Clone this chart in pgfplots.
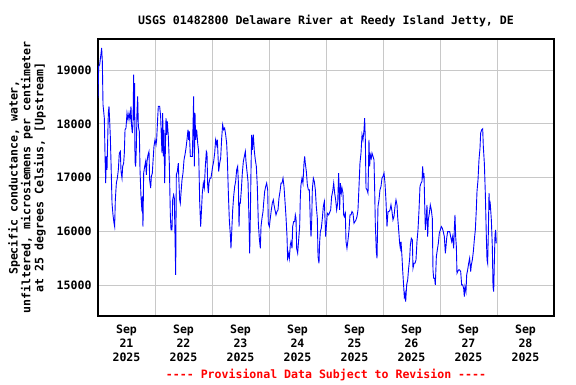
\documentclass[border=0pt]{standalone}
\usepackage{pgfplots}
\pgfplotsset{compat=1.18}
\usepackage{pgfplotstable}
\usepackage{fontspec}
\newfontfamily\usgs{DejaVu Sans Mono}
\definecolor{gridgray}{RGB}{200,200,200}
\definecolor{usgsblue}{RGB}{0,0,255}
\definecolor{usgsred}{RGB}{255,0,0}

\pgfplotstableread{
d v
0.000 18479
0.012 19068
0.029 19099
0.047 19254
0.064 19409
0.076 19161
0.088 18355
0.111 18107
0.123 17425
0.135 16898
0.146 17394
0.158 17146
0.170 17704
0.181 18200
0.193 18324
0.205 18045
0.216 17766
0.228 17301
0.246 16526
0.263 16308
0.281 16153
0.292 16091
0.304 16587
0.322 16898
0.339 16990
0.357 17146
0.374 17456
0.392 17487
0.404 17115
0.421 16990
0.433 17208
0.450 17270
0.462 17456
0.474 17890
0.491 17921
0.509 18200
0.526 18076
0.544 18200
0.561 18076
0.579 18324
0.591 17952
0.602 17828
0.614 17983
0.626 18913
0.637 18076
0.643 18758
0.649 17301
0.661 17208
0.673 17580
0.684 18231
0.696 18510
0.708 17952
0.725 17859
0.737 17146
0.754 16650
0.772 16371
0.778 16650
0.789 16091
0.801 17084
0.819 17208
0.836 17301
0.848 17053
0.860 17301
0.877 17425
0.895 17487
0.906 16960
0.924 16805
0.936 17022
0.953 17084
0.965 17301
0.982 17580
1.000 17704
1.018 17611
1.029 17704
1.047 18107
1.058 18324
1.082 18324
1.099 18138
1.111 17766
1.123 17456
1.135 18200
1.146 17394
1.158 17890
1.170 16898
1.181 17456
1.193 18107
1.205 17797
1.216 18045
1.234 17766
1.251 17270
1.269 16308
1.281 16029
1.298 16029
1.310 16587
1.327 16681
1.339 16619
1.351 15905
1.363 15192
1.374 17053
1.392 17115
1.409 17270
1.421 16898
1.433 16587
1.444 16526
1.456 16712
1.474 16960
1.491 17084
1.509 17332
1.526 17425
1.544 17549
1.561 17704
1.579 17890
1.591 17704
1.602 17859
1.620 17394
1.637 17394
1.655 17394
1.667 17952
1.678 18510
1.690 17208
1.702 18200
1.713 17704
1.731 17890
1.749 17642
1.766 17487
1.784 16557
1.801 16091
1.813 16339
1.830 16712
1.848 16898
1.865 16805
1.883 17208
1.901 17487
1.912 17456
1.924 16867
1.936 16712
1.947 16898
1.965 16990
1.982 16990
2.012 17208
2.029 17301
2.047 17456
2.064 17704
2.082 17611
2.094 17704
2.105 17425
2.117 17115
2.135 17270
2.152 17363
2.170 17735
2.187 17983
2.205 17890
2.222 17921
2.240 17797
2.257 17642
2.269 17363
2.287 16712
2.304 16215
2.322 15936
2.333 15688
2.345 15967
2.363 16401
2.380 16650
2.398 16836
2.415 16929
2.433 17146
2.450 17208
2.462 16929
2.474 16091
2.485 16526
2.497 16526
2.515 16774
2.532 17084
2.550 17301
2.567 17394
2.585 17487
2.596 17301
2.614 17115
2.632 16929
2.649 16215
2.661 15595
2.673 16277
2.684 17115
2.696 17797
2.708 17518
2.725 17797
2.743 17487
2.760 17332
2.778 17208
2.795 16836
2.813 16153
2.830 15874
2.848 15688
2.860 16091
2.877 16246
2.895 16370
2.906 16526
2.924 16743
2.942 16836
2.959 16898
2.977 16774
2.988 16153
3.006 16091
3.023 16246
3.041 16401
3.058 16526
3.076 16587
3.088 16494
3.105 16401
3.123 16308
3.140 16370
3.158 16401
3.175 16619
3.193 16743
3.211 16898
3.228 16898
3.246 16990
3.263 16836
3.281 16557
3.298 16277
3.316 15905
3.327 15502
3.345 15595
3.357 15502
3.374 15750
3.386 15812
3.404 15688
3.415 16091
3.433 16184
3.450 16184
3.462 16308
3.474 16246
3.485 15688
3.503 15595
3.520 15843
3.538 16091
3.550 16650
3.561 16867
3.579 16990
3.596 16898
3.614 17270
3.626 17394
3.637 17270
3.655 17115
3.673 16867
3.690 16774
3.708 16774
3.725 16184
3.737 15905
3.749 16184
3.760 16774
3.778 16990
3.795 16929
3.813 16774
3.830 16464
3.848 16246
3.860 15533
3.877 15409
3.889 15812
3.901 15998
3.918 16060
3.936 16246
3.953 16464
3.971 16557
3.982 16246
3.994 15905
4.006 16091
4.023 16339
4.047 16308
4.082 16401
4.099 16650
4.117 16743
4.135 16898
4.152 16712
4.170 16587
4.187 16401
4.205 16526
4.222 17084
4.240 16401
4.251 16898
4.269 16712
4.281 16805
4.298 16712
4.310 16308
4.322 16277
4.339 16339
4.351 15812
4.368 15688
4.386 15843
4.404 16029
4.421 16308
4.439 16308
4.456 16370
4.474 16339
4.491 16153
4.509 16184
4.526 16215
4.544 16277
4.561 16401
4.579 16836
4.596 17270
4.614 17456
4.632 17797
4.649 17704
4.667 17890
4.678 18107
4.690 17704
4.702 16805
4.719 16774
4.737 16712
4.754 17704
4.766 17208
4.778 17425
4.795 17363
4.807 17456
4.825 17394
4.842 17332
4.854 16774
4.865 16153
4.883 15626
4.895 15502
4.912 16464
4.930 16587
4.947 16774
4.965 16836
4.982 16990
5.000 17022
5.018 17084
5.035 16898
5.053 16557
5.070 16091
5.088 16370
5.105 16370
5.123 16401
5.140 16494
5.158 16370
5.175 16215
5.193 16277
5.211 16464
5.228 16587
5.246 16494
5.257 16277
5.275 16029
5.292 15781
5.304 15688
5.316 15812
5.333 15533
5.345 15285
5.363 14975
5.374 14789
5.386 14851
5.398 14696
5.415 15006
5.433 15099
5.450 15316
5.468 15502
5.480 15750
5.497 15874
5.515 15843
5.526 15316
5.544 15409
5.561 15409
5.579 15471
5.596 15812
5.614 16029
5.632 16401
5.649 16836
5.667 16898
5.684 16929
5.696 17208
5.708 16990
5.719 17084
5.731 16526
5.743 16029
5.754 16184
5.772 16494
5.784 15905
5.795 16215
5.813 16339
5.830 16494
5.848 16401
5.865 16246
5.877 15285
5.889 15130
5.906 15130
5.918 15006
5.936 15533
5.953 15657
5.971 15781
5.988 15967
6.006 16029
6.023 16091
6.041 16060
6.058 15998
6.076 15905
6.094 15595
6.105 15719
6.117 15874
6.135 15998
6.152 15998
6.170 15998
6.187 15905
6.205 15812
6.222 15905
6.240 15688
6.251 16029
6.263 16308
6.275 15905
6.287 15719
6.298 15223
6.310 15254
6.327 15285
6.345 15285
6.363 15254
6.380 15006
6.398 15006
6.415 14944
6.427 14789
6.439 14975
6.456 14882
6.468 15192
6.485 15285
6.503 15409
6.520 15502
6.538 15254
6.550 15378
6.567 15471
6.585 15626
6.602 15843
6.620 16029
6.637 16401
6.649 16743
6.667 16960
6.684 17332
6.702 17549
6.713 17828
6.731 17890
6.749 17909
6.760 17580
6.778 17270
6.795 16712
6.813 15905
6.825 15471
6.836 15409
6.848 15967
6.860 16712
6.871 16401
6.883 16494
6.901 16215
6.918 15719
6.930 14975
6.942 14882
6.953 15409
6.965 15936
6.977 16029
6.988 15781
}\cond

\begin{document}
\begin{tikzpicture}
\path (0,0) rectangle (576bp,384bp);
\begin{axis}[
  at={(98bp,68bp)}, anchor=south west,
  scale only axis, width=456bp, height=277bp,
  xmin=0, xmax=8, ymin=14429, ymax=19577,
  xtick={0.5,1.5,...,7.5},
  xticklabels={{Sep\\21\\2025},{Sep\\22\\2025},{Sep\\23\\2025},{Sep\\24\\2025},{Sep\\25\\2025},{Sep\\26\\2025},{Sep\\27\\2025},{Sep\\28\\2025}},
  minor xtick={1,2,...,7},
  xminorgrids=true, xmajorgrids=false,
  ytick={15000,16000,17000,18000,19000},
  scaled y ticks=false,
  ymajorgrids=true,
  grid style={draw=gridgray, line width=0.9bp},
  minor grid style={draw=gridgray, line width=0.9bp},
  major tick length=0pt, minor tick length=0pt,
  axis line style={line width=1.5bp, black},
  /pgf/number format/assume math mode=true,
  /pgf/number format/set thousands separator={},
  ticklabel style={font=\usgs\bfseries\fontsize{11.6}{14.2}\selectfont},
  xticklabel style={align=center, yshift=-5.5bp},
  yticklabel style={xshift=-3bp},
  title={USGS 01482800 Delaware River at Reedy Island Jetty, DE},
  title style={font=\usgs\bfseries\fontsize{11.6}{13}\selectfont, at={(axis description cs:0.5,1)}, anchor=south, yshift=3bp},
  ylabel={Specific conductance, water,\\unfiltered, microsiemens per centimeter\\at 25 degrees Celsius, [Upstream]},
  ylabel style={font=\usgs\bfseries\fontsize{11.6}{11.6}\selectfont, align=center, at={(axis description cs:-0.1557,0.5)}, anchor=center, rotate=0},
  clip=true,
]
\addplot[color=usgsblue, line width=0.9bp] table[x=d, y=v] {\cond};
\end{axis}
\node[font=\usgs\bfseries\fontsize{11.6}{13}\selectfont, text=usgsred] at (326bp,9bp) {---- Provisional Data Subject to Revision ----};
\end{tikzpicture}
\end{document}
